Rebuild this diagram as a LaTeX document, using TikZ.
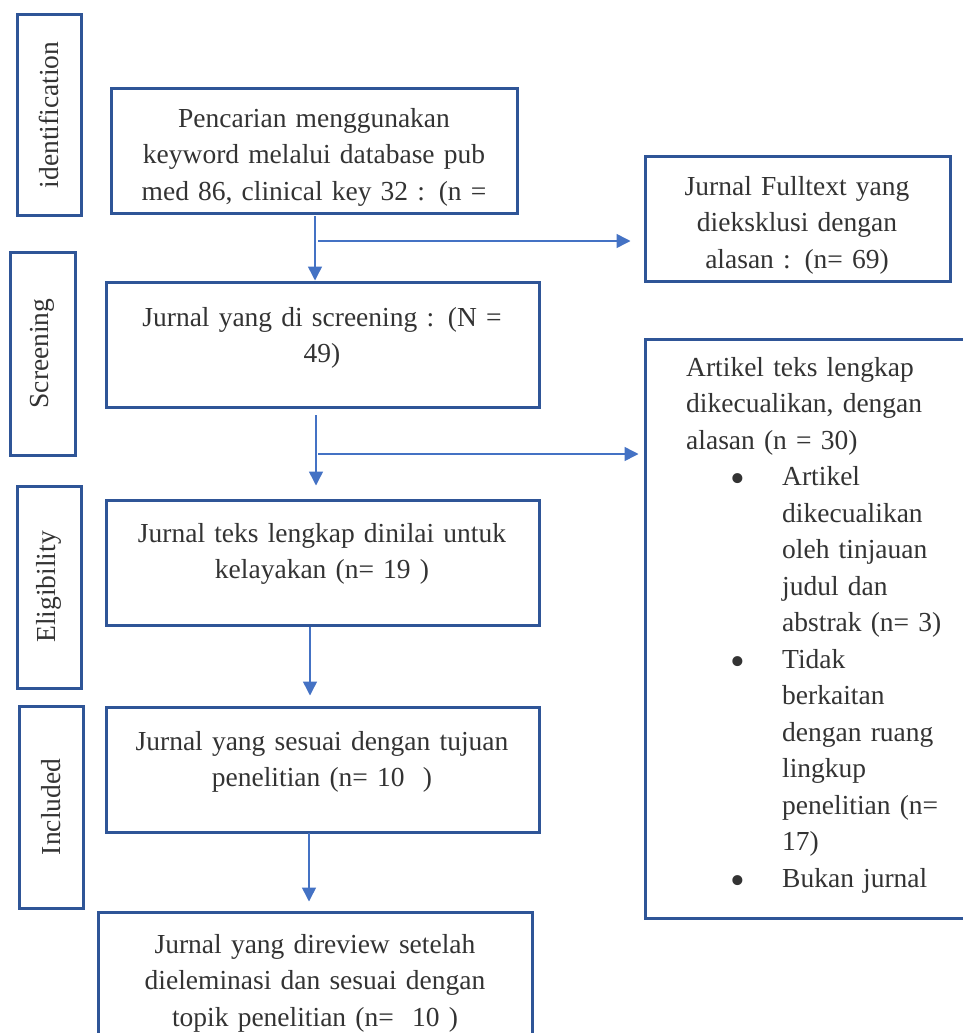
\documentclass[tikz,border=0pt]{standalone}
\usepackage{fontspec}
\setmainfont{Liberation Serif}
\usetikzlibrary{arrows.meta}
\definecolor{boxblue}{HTML}{2F5597}
\definecolor{arrblue}{HTML}{4472C4}
\definecolor{txtgray}{HTML}{333333}
\newcommand\mybul{\makebox[96pt][l]{\hspace*{44pt}\raisebox{-7pt}{\fontsize{42}{36.5}\selectfont •}}}
\newcommand\myind{\hspace*{96pt}}
\begin{document}
\begin{tikzpicture}[x=1pt,y=-1pt,
  box/.style={draw=boxblue,line width=3pt,inner sep=0pt,fill=none},
  txt/.style={text=txtgray,inner sep=0pt,font=\fontsize{27.5}{36.5}\selectfont},
  ctxt/.style={txt,align=center,anchor=base},
  side/.style={txt,rotate=90},
  arr/.style={draw=arrblue,line width=1.5pt,-{Triangle[width=14pt,length=14pt]}},
  ln/.style={draw=arrblue,line width=1.5pt}]
\useasboundingbox (0,0) rectangle (963,1033);
\clip (0,0) rectangle (963,1033);
% side boxes
\node[box,minimum width=64pt,minimum height=200pt] (s1) at (49,115) {};
\node[box,minimum width=65pt,minimum height=203pt] (s2) at (42.5,353.5) {};
\node[box,minimum width=64pt,minimum height=202pt] (s3) at (49,587) {};
\node[box,minimum width=64pt,minimum height=202pt] (s4) at (51,807) {};
\node[side] (l1) at (s1.center) {identification};
\node[side] (l2) at (s2.center) {Screening};
\node[side] (l3) at (s3.center) {Eligibility};
\node[side] (l4) at (s4.center) {Included};
% main boxes
\node[box,minimum width=406pt,minimum height=125pt] (b1) at (314,150.5) {};
\node[box,minimum width=305pt,minimum height=125pt] (e1) at (797.5,218.5) {};
\node[box,minimum width=433pt,minimum height=125pt] (b2) at (322.5,344.5) {};
\node[box,minimum width=330pt,minimum height=579pt] (e2) at (810,628.5) {};
\node[box,minimum width=433pt,minimum height=125pt] (b3) at (322.5,562.5) {};
\node[box,minimum width=433pt,minimum height=125pt] (b4) at (322.5,769.5) {};
\node[box,minimum width=434pt,minimum height=138pt] (b5) at (315,981) {};
% texts
\node[ctxt,text width=400pt] (t1) at (314,127) {Pencarian menggunakan\\keyword melalui database pub\\med 86, clinical key 32 : (n =};
\node[ctxt,text width=300pt] (te1) at (797,195) {Jurnal Fulltext yang\\dieksklusi dengan\\alasan : (n= 69)};
\node[ctxt,text width=420pt] (t2) at (322,326) {Jurnal yang di screening : (N =\\49)};
\node[txt,align=left,anchor=base west,text width=300pt] (te2) at (686,376) {Artikel teks lengkap\\dikecualikan, dengan\\alasan (n = 30)\\
\mybul Artikel\\\myind dikecualikan\\\myind oleh tinjauan\\\myind judul dan\\\myind abstrak (n= 3)\\
\mybul Tidak\\\myind berkaitan\\\myind dengan ruang\\\myind lingkup\\\myind penelitian (n=\\\myind 17)\\
\mybul Bukan jurnal};
\node[ctxt,text width=420pt] (t3) at (322,542) {Jurnal teks lengkap dinilai untuk\\kelayakan (n= 19 )};
\node[ctxt,text width=420pt] (t4) at (322,750) {Jurnal yang sesuai dengan tujuan\\penelitian (n= 10~~)};
\node[ctxt,text width=420pt] (t5) at (315,953) {Jurnal yang direview setelah\\dieleminasi dan sesuai dengan\\topik penelitian (n=~~10 )};
% connectors
\coordinate (a1) at (315,216);
\coordinate (h1) at (318,241);
\coordinate (a2) at (316,415);
\coordinate (h2) at (318,454);
\coordinate (a3) at (310,627);
\coordinate (a4) at (309,833);
\draw[arr] (a1) -- (a1 |- b2.north);
\draw[arr,shorten >=13pt] (h1) -- (h1 -| e1.west);
\draw[arr,shorten >=13pt] (a2) -- (a2 |- b3.north);
\draw[arr,shorten >=5pt] (h2) -- (h2 -| e2.west);
\draw[arr,shorten >=10pt] (a3) -- (a3 |- b4.north);
\draw[arr,shorten >=9pt] (a4) -- (a4 |- b5.north);
\end{tikzpicture}
\end{document}
